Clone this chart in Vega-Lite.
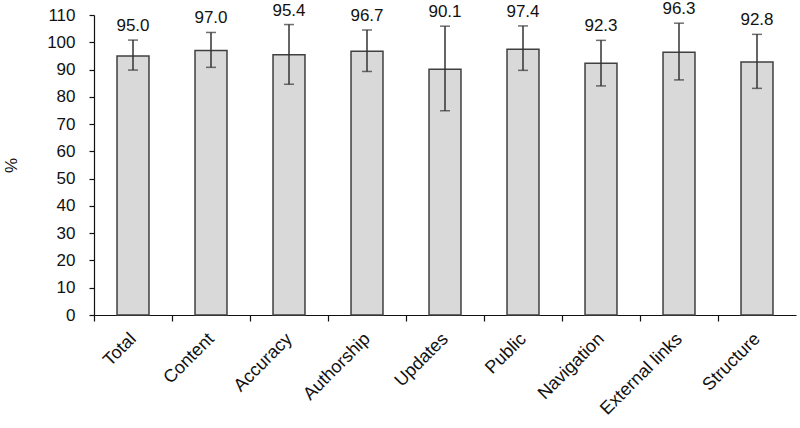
{
  "$schema": "https://vega.github.io/schema/vega-lite/v6.json",
  "width": 702,
  "height": 300,
  "autosize": "none",
  "padding": {"left": 94, "top": 15, "right": 4, "bottom": 113},
  "background": "white",
  "config": {
    "view": {"stroke": null},
    "font": "Liberation Sans",
    "axis": {"labelFont": "Liberation Sans", "titleFont": "Liberation Sans", "labelColor": "#111", "titleColor": "#111", "grid": false, "domainColor": "#111", "tickColor": "#111", "domainWidth": 1.2, "tickWidth": 1.2},
    "axisY": {"title": "%", "titleFontSize": 17, "titleFontWeight": "normal", "titleAngle": -90, "titleX": -83, "titleY": 150, "titleAlign": "center", "titleBaseline": "middle", "values": [0,10,20,30,40,50,60,70,80,90,100,110], "labelFontSize": 17, "labelPadding": 14, "tickSize": 5, "labelOverlap": false, "labelBound": false, "labelFlush": false}
  },
  "data": {
    "values": [
      {"cat": "Total", "value": 95.0, "lo": 89.8, "hi": 100.8},
      {"cat": "Content", "value": 97.0, "lo": 90.8, "hi": 103.6},
      {"cat": "Accuracy", "value": 95.4, "lo": 84.6, "hi": 106.5},
      {"cat": "Authorship", "value": 96.7, "lo": 89.3, "hi": 104.5},
      {"cat": "Updates", "value": 90.1, "lo": 74.9, "hi": 105.9},
      {"cat": "Public", "value": 97.4, "lo": 89.7, "hi": 106.0},
      {"cat": "Navigation", "value": 92.3, "lo": 84.0, "hi": 100.7},
      {"cat": "External links", "value": 96.3, "lo": 86.2, "hi": 107.0},
      {"cat": "Structure", "value": 92.8, "lo": 83.1, "hi": 102.9}
    ]
  },
  "encoding": {
    "x": {
      "field": "cat", "type": "nominal", "sort": null,
      "scale": {"paddingInner": 0.59, "paddingOuter": 0.295},
      "axis": {"title": null, "labelAngle": -45, "labelAlign": "right", "labelBaseline": "middle", "labelFontSize": 18, "labelPadding": 15, "tickOffset": -39, "labelOffset": 39, "tickSize": 6, "labelOverlap": false}
    }
  },
  "layer": [
    {
      "mark": {"type": "bar", "fill": "#d9d9d9", "stroke": "#404040", "strokeWidth": 1.5},
      "encoding": {
        "y": {"field": "value", "type": "quantitative", "title": "%", "scale": {"domain": [0, 110], "nice": false}, "axis": {"values": [0,10,20,30,40,50,60,70,80,90,100,110]}}
      }
    },
    {
      "mark": {"type": "rule", "color": "#333", "strokeWidth": 1.5},
      "encoding": {"y": {"field": "lo", "type": "quantitative", "title": "%", "axis": {"values": [0,10,20,30,40,50,60,70,80,90,100,110]}}, "y2": {"field": "hi"}}
    },
    {
      "mark": {"type": "tick", "color": "#333", "thickness": 1.5, "size": 10},
      "encoding": {"y": {"field": "lo", "type": "quantitative", "title": "%", "axis": {"values": [0,10,20,30,40,50,60,70,80,90,100,110]}}}
    },
    {
      "mark": {"type": "tick", "color": "#333", "thickness": 1.5, "size": 10},
      "encoding": {"y": {"field": "hi", "type": "quantitative", "title": "%", "axis": {"values": [0,10,20,30,40,50,60,70,80,90,100,110]}}}
    },
    {
      "mark": {"type": "text", "fontSize": 17, "baseline": "alphabetic", "dy": -9, "color": "#111"},
      "encoding": {"y": {"field": "hi", "type": "quantitative", "title": "%", "axis": {"values": [0,10,20,30,40,50,60,70,80,90,100,110]}}, "text": {"field": "value", "type": "quantitative", "format": ".1f"}}
    }
  ]
}
